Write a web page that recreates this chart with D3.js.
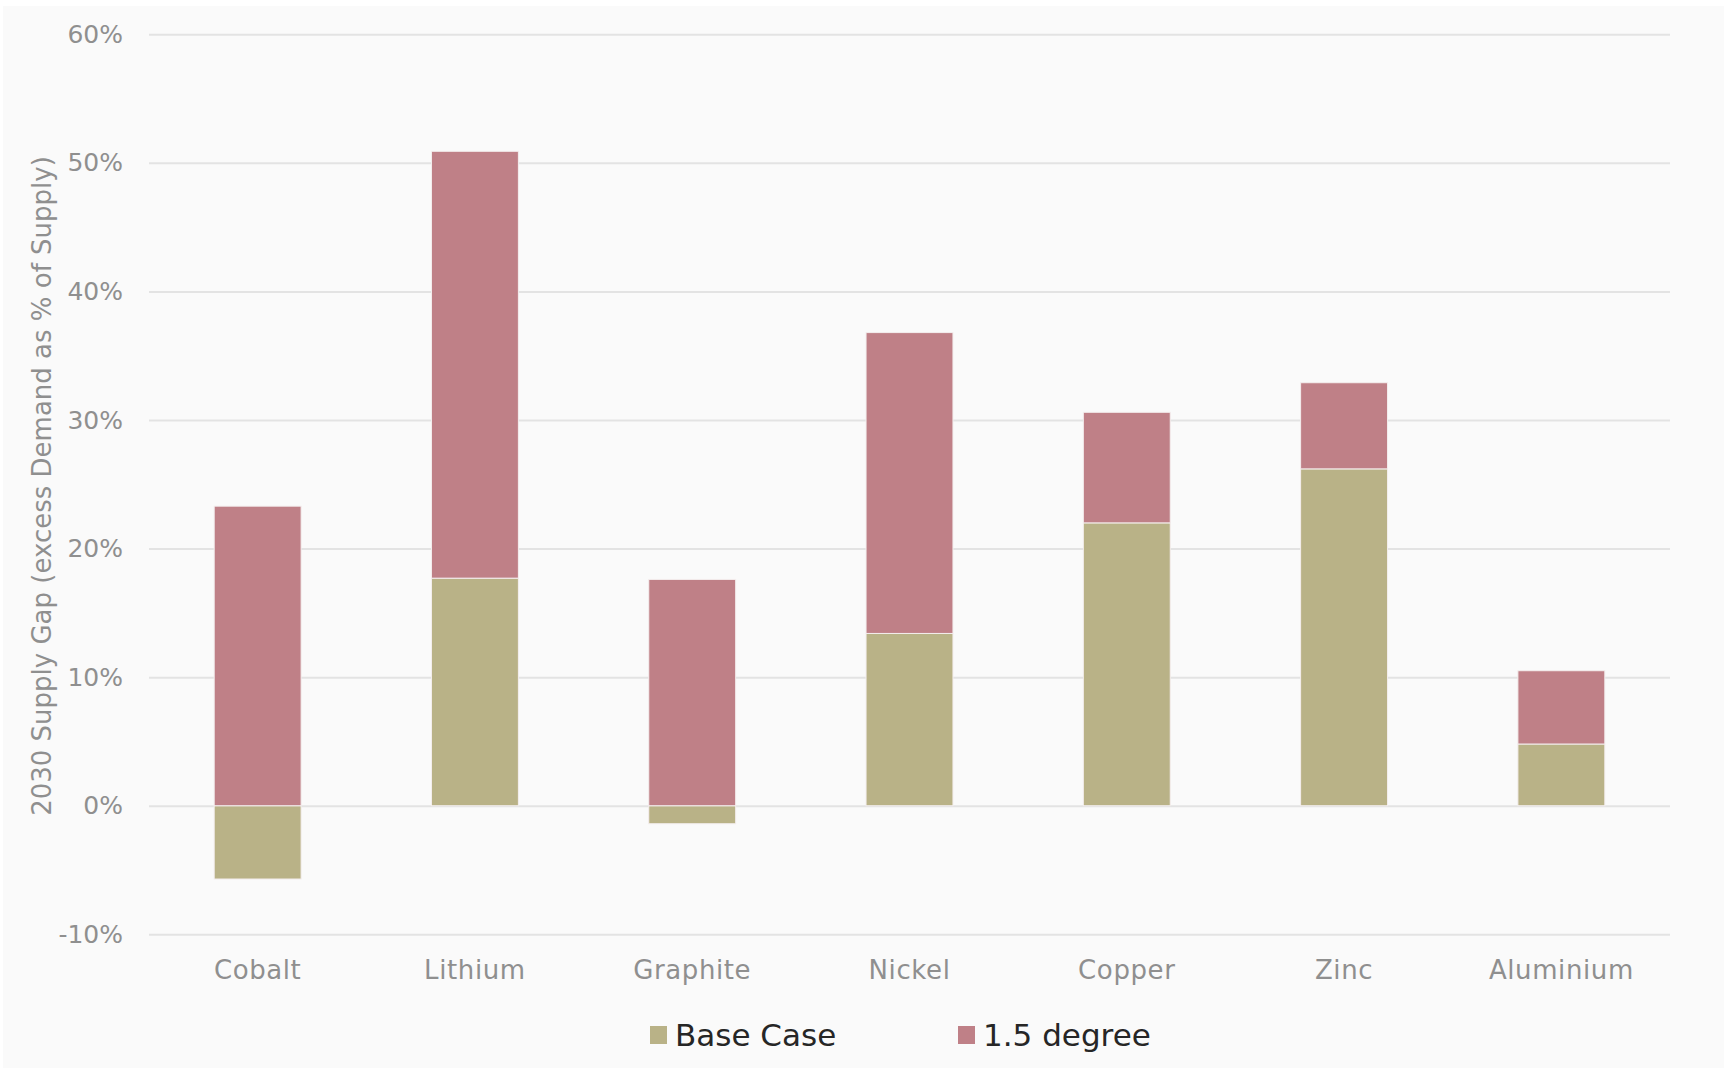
<!DOCTYPE html>
<html>
<head>
<meta charset="utf-8">
<script src="https://d3js.org/d3.v7.min.js"></script>
<style>
  body { margin: 0; background: #fff; }
  text { font-family: "DejaVu Sans", sans-serif; }
</style>
</head>
<body>
<svg id="chart" width="1727" height="1072"></svg>
<script>
// metals on the x axis
var metals = ['Cobalt', 'Lithium', 'Graphite', 'Nickel', 'Copper', 'Zinc', 'Aluminium']
// base case gap, % of supply
var baseCase = [-5.7, 17.7, -1.4, 13.4, 22.0, 26.2, 4.8]
// extra gap in the 1.5 degree scenario, stacked on top
var degree15 = [23.3, 33.2, 17.6, 23.4, 8.6, 6.7, 5.7]
var seriesNames = ['Base Case', '1.5 degree']
var colors = ['#b9b287', '#bf8087']
var yTicks = [-10, 0, 10, 20, 30, 40, 50, 60]

var svg = d3.select('#chart')
var W = 1727, H = 1072
var margin = { left: 149, right: 57, top: 34.3, bottom: 137.7 }

svg.append('rect')
    .attr('x', 3).attr('y', 6)
    .attr('width', W - 6).attr('height', H - 10)
    .attr('fill', '#fafafa')

var rows = metals.map(function(m, i) {
    return { metal: m, 'Base Case': baseCase[i], '1.5 degree': degree15[i] }
})

var stack = d3.stack()
    .keys(seriesNames)
    .offset(d3.stackOffsetDiverging)
var layers = stack(rows)

var x = d3.scaleBand()
    .domain(metals)
    .range([margin.left, W - margin.right])
    .paddingInner(0.6)
    .paddingOuter(0.3)

var y = d3.scaleLinear()
    .domain([-10, 60])
    .range([H - margin.bottom, margin.top])

// gridlines + y labels
var yAxis = d3.axisLeft(y)
    .tickValues(yTicks)
    .tickSize(-(W - margin.left - margin.right))
    .tickPadding(26)
    .tickFormat(function(d) { return d + '%' })

var gy = svg.append('g')
    .attr('transform', 'translate(' + margin.left + ',0)')
    .call(yAxis)
gy.select('.domain').remove()
gy.selectAll('.tick line').attr('stroke', '#e3e3e3').attr('stroke-width', 2)
gy.selectAll('.tick text')
    .attr('fill', '#8f8f8f')
    .style('font-size', '25px')

// bars
svg.append('g').selectAll('g')
    .data(layers)
    .enter()
    .append('g')
    .attr('fill', function(d, i) { return colors[i] })
    .selectAll('rect')
    .data(function(d) { return d })
    .enter()
    .append('rect')
    .attr('x', function(d) { return x(d.data.metal) })
    .attr('width', x.bandwidth())
    .attr('y', function(d) { return y(Math.max(d[0], d[1])) })
    .attr('height', function(d) { return Math.abs(y(d[0]) - y(d[1])) })
    .attr('stroke', '#f4eeee')
    .attr('stroke-width', 1)

// x labels
var xAxis = d3.axisBottom(x).tickSize(0).tickPadding(0)
var gx = svg.append('g')
    .attr('transform', 'translate(0,' + 979 + ')')
    .call(xAxis)
gx.select('.domain').remove()
gx.selectAll('.tick text')
    .attr('dy', 0)
    .attr('fill', '#8f8f8f')
    .style('font-size', '26px')
    .style('letter-spacing', '0.6px')

// y title
svg.append('text')
    .attr('transform', 'translate(51,' + 486 + ') rotate(-90)')
    .attr('text-anchor', 'middle')
    .attr('fill', '#8f8f8f')
    .style('font-size', '26px')
    .text('2030 Supply Gap (excess Demand as % of Supply)')

// legend
var legendX = [650, 958]
var legend = svg.append('g').selectAll('g')
    .data(seriesNames)
    .enter()
    .append('g')
    .attr('transform', function(d, i) { return 'translate(' + legendX[i] + ',1026)' })
legend.append('rect')
    .attr('width', 17).attr('height', 18)
    .attr('fill', function(d, i) { return colors[i] })
legend.append('text')
    .attr('x', 25).attr('y', 20)
    .attr('fill', '#262626')
    .style('font-size', '31px')
    .text(function(d) { return d })
</script>
</body>
</html>
